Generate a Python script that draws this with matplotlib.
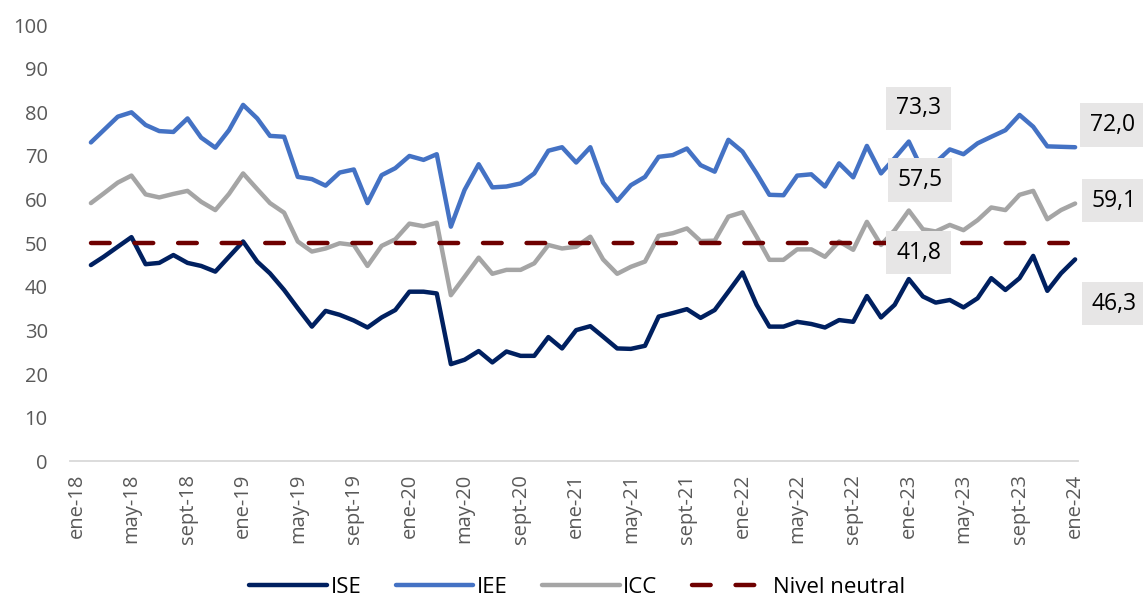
import matplotlib
matplotlib.use("Agg")
import matplotlib.pyplot as plt
import matplotlib.dates as mdates
import pandas as pd

plt.rcParams['font.family'] = ['Open Sans', 'DejaVu Sans']

# monthly series, feb-2018 .. ene-2024
fechas = pd.date_range('2018-02-01', periods=72, freq='MS')

ise = [45.0, 46.9, 49.2, 51.4, 45.2, 45.5, 47.3, 45.5, 44.8, 43.5, 46.9, 50.4,
       45.8, 43.1, 39.3, 35.1, 30.9, 34.5, 33.6, 32.3, 30.7, 33.0, 34.7, 38.9,
       38.9, 38.5, 22.3, 23.3, 25.3, 22.7, 25.2, 24.2, 24.2, 28.5, 25.9, 30.1,
       31.0, 28.6, 25.9, 25.8, 26.5, 33.2, 34.0, 34.9, 32.9, 34.7, 38.9, 43.3,
       35.9, 30.9, 30.9, 32.0, 31.5, 30.7, 32.4, 32.0, 37.9, 33.0, 35.9, 41.8,
       37.8, 36.4, 37.0, 35.3, 37.4, 42.0, 39.3, 42.0, 47.1, 39.1, 43.1, 46.3]

iee = [73.1, 75.9, 79.0, 80.0, 77.1, 75.7, 75.5, 78.6, 74.2, 71.9, 75.9, 81.7,
       78.6, 74.6, 74.4, 65.2, 64.7, 63.2, 66.2, 66.9, 59.2, 65.6, 67.2, 70.0,
       69.1, 70.4, 53.8, 62.2, 68.1, 62.8, 63.0, 63.7, 66.0, 71.2, 72.0, 68.5,
       72.0, 63.9, 59.7, 63.3, 65.2, 69.8, 70.2, 71.7, 67.9, 66.4, 73.7, 71.0,
       66.0, 61.1, 61.0, 65.5, 65.8, 63.0, 68.3, 65.1, 72.3, 66.0, 69.5, 73.3,
       66.5, 68.5, 71.5, 70.4, 72.9, 74.4, 75.9, 79.4, 76.7, 72.2, 72.1, 72.0]

icc = [59.2, 61.4, 63.9, 65.5, 61.2, 60.5, 61.3, 62.0, 59.5, 57.6, 61.3, 66.0,
       62.4, 59.2, 57.0, 50.4, 48.1, 48.8, 50.0, 49.6, 44.8, 49.4, 50.9, 54.5,
       53.9, 54.7, 38.1, 42.3, 46.7, 43.0, 43.9, 43.9, 45.4, 49.6, 48.8, 49.2,
       51.5, 46.3, 43.0, 44.6, 45.8, 51.7, 52.3, 53.4, 50.5, 50.6, 56.1, 57.1,
       51.5, 46.2, 46.2, 48.6, 48.6, 46.9, 50.4, 48.5, 54.9, 49.6, 53.0, 57.5,
       53.2, 52.7, 54.2, 53.0, 55.3, 58.2, 57.6, 61.1, 62.0, 55.5, 57.6, 59.1]

neutral = [50] * len(fechas)

meses = ['ene', 'feb', 'mar', 'abr', 'may', 'jun', 'jul', 'ago', 'sept', 'oct', 'nov', 'dic']
ticks = pd.date_range('2018-01-01', '2024-01-01', freq='4MS')
tick_labels = [f"{meses[t.month - 1]}-{t.strftime('%y')}" for t in ticks]

c_ise, c_iee, c_icc, c_neu = '#002060', '#4472C4', '#A5A5A5', '#6E0000'

fig = plt.figure(figsize=(11.43, 6.03), dpi=100)
ax = fig.add_axes([0.0612, 0.2347, 0.8818, 0.7238])

ax.plot(fechas, ise, color=c_ise, lw=3.2, solid_capstyle='round', solid_joinstyle='round', label='ISE')
ax.plot(fechas, iee, color=c_iee, lw=3.2, solid_capstyle='round', solid_joinstyle='round', label='IEE')
ax.plot(fechas, icc, color=c_icc, lw=3.2, solid_capstyle='round', solid_joinstyle='round', label='ICC')
ax.plot(fechas, neutral, color=c_neu, lw=3.2, dashes=(4.2, 5.6), dash_capstyle='round',
        label='Nivel neutral')

def fmt(v):
    return f"{v:.1f}".replace('.', ',')

# data labels: (index, series, offset in points)
box = dict(boxstyle='square,pad=0.42', facecolor='#E7E6E6', edgecolor='none')
i23 = list(fechas).index(pd.Timestamp('2023-01-01'))
i24 = len(fechas) - 1
etiquetas = [
    (i23, iee, (7, 24)),
    (i23, icc, (8, 22)),
    (i23, ise, (7, 19)),
    (i24, iee, (27, 16)),
    (i24, icc, (28, 2)),
    (i24, ise, (28, -32)),
]
for idx, serie, off in etiquetas:
    ax.annotate(fmt(serie[idx]), xy=(fechas[idx], serie[idx]), xytext=off,
                textcoords='offset points', ha='center', va='center',
                fontsize=16.5, color='black', bbox=box, annotation_clip=False)

ax.set_ylim(0, 100)
ax.set_yticks(range(0, 101, 10))
ax.set_xticks(ticks)
ax.set_xticklabels(tick_labels, rotation=90)
x0 = mdates.date2num(pd.Timestamp('2018-01-01')) - 15
x1 = mdates.date2num(pd.Timestamp('2024-01-01')) + 6
ax.set_xlim(x0, x1)

for s in ['top', 'right', 'left']:
    ax.spines[s].set_visible(False)
ax.spines['bottom'].set_color('#D9D9D9')
ax.spines['bottom'].set_linewidth(1.3)
ax.tick_params(axis='both', length=0, labelsize=14.5, colors='#595959')
ax.tick_params(axis='y', pad=16)
ax.tick_params(axis='x', pad=9)

fig.legend(loc='lower center', bbox_to_anchor=(0.505, -0.025), ncol=4, frameon=False,
           fontsize=16, handlelength=3.5, columnspacing=1.55, handletextpad=0.15)

fig.savefig('out.png', dpi=100, facecolor='white')
